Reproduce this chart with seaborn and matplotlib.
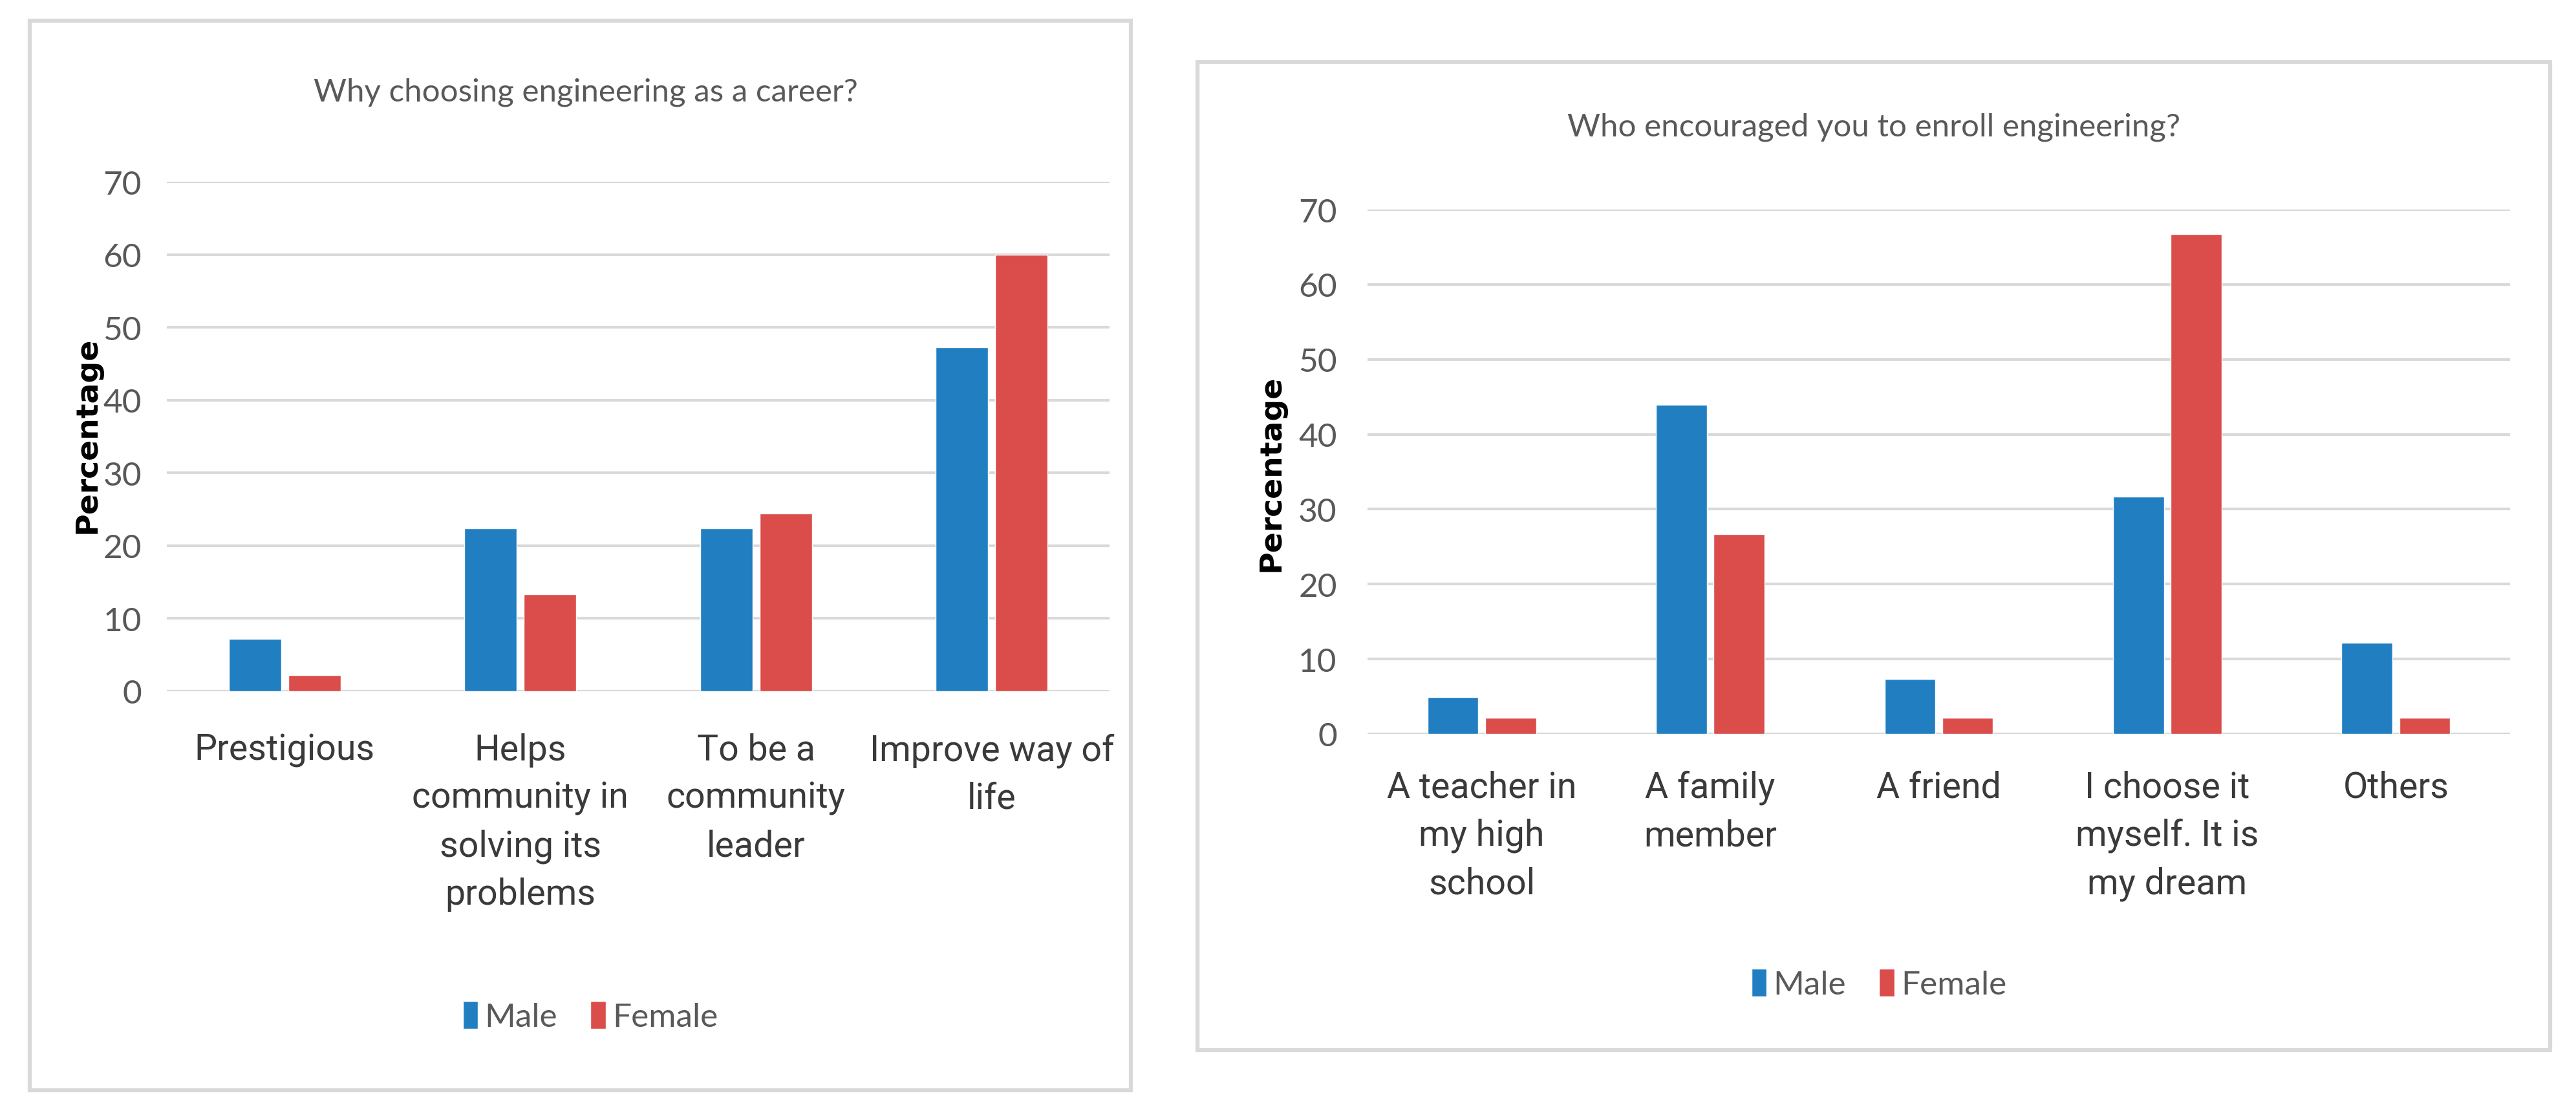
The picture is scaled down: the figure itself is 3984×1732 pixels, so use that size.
import matplotlib
matplotlib.use("Agg")
import matplotlib.pyplot as plt
from matplotlib.patches import Rectangle, Patch
import pandas as pd
import seaborn as sns

# ---- data ----
reasons = ["Prestigious", "Helps community in solving its problems",
           "To be a community leader", "Improve way of life"]
reason_labels = ["Prestigious", "Helps\ncommunity in\nsolving its\nproblems",
                 "To be a\ncommunity\nleader", "Improve way of\nlife"]
male_reason = [7.2, 22.4, 22.4, 47.3]
female_reason = [2.2, 13.3, 24.4, 60.0]

encouraged = ["A teacher in my high school", "A family member", "A friend",
              "I choose it myself. It is my dream", "Others"]
encouraged_labels = ["A teacher in\nmy high\nschool", "A family\nmember", "A friend",
                     "I choose it\nmyself. It is\nmy dream", "Others"]
male_enc = [4.9, 43.9, 7.3, 31.7, 12.2]
female_enc = [2.2, 26.7, 2.2, 66.7, 2.2]

genders = ["Male", "Female"]
yticks = [0, 10, 20, 30, 40, 50, 60, 70]

W, H = 3984, 1733
BLUE = "#217FC1"
RED = "#DA4D4A"
GRID = "#D9D9D9"
SOFT = ["Lato", "DejaVu Sans"]      # stands in for Calibri
NARROW = ["Roboto", "DejaVu Sans"]  # stands in for Arial Narrow

sns.set_theme(style="white")
plt.rcParams["font.family"] = SOFT


def long_df(cats, male, female):
    return pd.DataFrame({
        "category": cats * 2,
        "pct": list(male) + list(female),
        "gender": ["Male"] * len(cats) + ["Female"] * len(cats),
    })


def px_box(x0, y0, x1, y1):
    # pixel box (top-left origin) -> figure fraction [l, b, w, h]
    return [x0 / W, 1 - y1 / H, (x1 - x0) / W, (y1 - y0) / H]


fig = plt.figure(figsize=(W / 100, H / 100), dpi=100)
fig.patch.set_facecolor("white")

# panel frames
for x0, y0, x1, y1 in [(46, 33, 1749, 1687), (1852, 97, 3944, 1625)]:
    fig.patches.append(Rectangle((x0 / W, 1 - y1 / H), (x1 - x0) / W, (y1 - y0) / H,
                                 transform=fig.transFigure, fill=False,
                                 edgecolor=GRID, linewidth=4.5))

panels = [
    dict(box=(258, 282, 1716, 1070), cats=reasons, labels=reason_labels,
         male=male_reason, female=female_reason,
         title="Why choosing engineering as a career?", title_xy=(906, 143),
         ylab_xy=(135, 673), legend_xy=(913, 1573), ypad=28, xpad=46),
    dict(box=(2115, 325, 3882, 1136), cats=encouraged, labels=encouraged_labels,
         male=male_enc, female=female_enc,
         title="Who encouraged you to enroll engineering?", title_xy=(2898, 197),
         ylab_xy=(1966, 732), legend_xy=(2906, 1523), ypad=34, xpad=40),
]

for p in panels:
    ax = fig.add_axes(px_box(*p["box"]))
    df = long_df(p["cats"], p["male"], p["female"])
    sns.barplot(data=df, x="category", y="pct", hue="gender", hue_order=genders,
                palette=[BLUE, RED], saturation=1, width=0.505, gap=0.12,
                errorbar=None, legend=False, ax=ax)
    ax.set_ylim(0, 70)
    ax.set_yticks(yticks)
    ax.set_yticklabels([str(t) for t in yticks], fontsize=37, color="#595959",
                       family=SOFT)
    ax.set_xticks(range(len(p["cats"])))
    ax.set_xticklabels(p["labels"], fontsize=40, color="#3A3A3A", va="top",
                       family=NARROW, linespacing=1.5)
    ax.tick_params(axis="y", length=0, pad=p["ypad"])
    ax.tick_params(axis="x", length=0, pad=p["xpad"])
    ax.set_xlabel("")
    ax.set_ylabel("")
    ax.grid(axis="y", color=GRID, linewidth=3)
    ax.set_axisbelow(True)
    for s in ax.spines.values():
        s.set_visible(False)

    tx, ty = p["title_xy"]
    fig.text(tx / W, 1 - ty / H, p["title"], ha="center", va="center",
             fontsize=35.5, color="#595959")
    lx, ly = p["ylab_xy"]
    fig.text(lx / W, 1 - ly / H, "Percentage", rotation=90, ha="center", va="center",
             fontsize=34, fontweight="bold", color="black", family="DejaVu Sans")

    handles = [Patch(facecolor=BLUE), Patch(facecolor=RED)]
    gx, gy = p["legend_xy"]
    leg = fig.legend(handles, genders, loc="center", bbox_to_anchor=(gx / W, 1 - gy / H),
                     ncol=2, frameon=False, fontsize=37, handlelength=0.45,
                     handleheight=0.9, handletextpad=0.2, columnspacing=1.0)
    for t in leg.get_texts():
        t.set_color("#595959")

fig.savefig("out.png", dpi=100, facecolor="white")
